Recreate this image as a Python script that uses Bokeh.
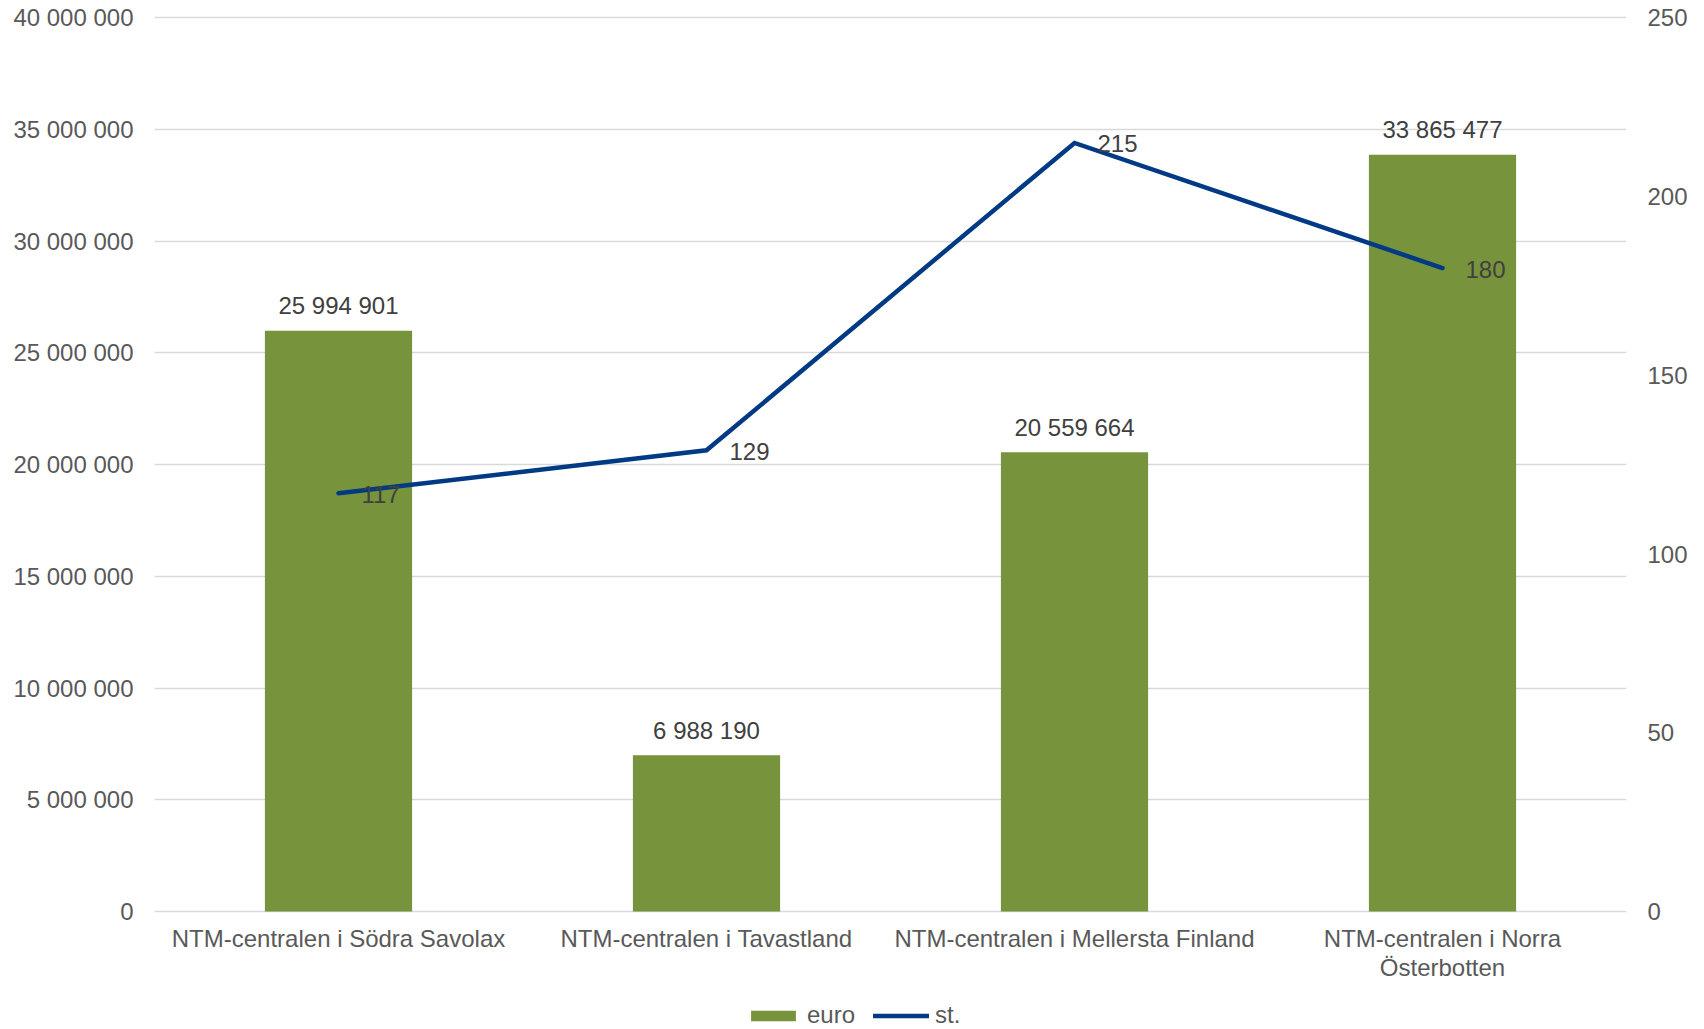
from bokeh.plotting import figure
from bokeh.models import (Range1d, FactorRange, LinearAxis, FixedTicker, CustomJSTickFormatter,
                          Legend, LegendItem, ColumnDataSource)
from bokeh.core.properties import value
from bokeh.embed import file_html
from bokeh.resources import INLINE

categories = ["NTM-centralen i Södra Savolax", "NTM-centralen i Tavastland",
              "NTM-centralen i Mellersta Finland", "NTM-centralen i Norra Österbotten"]
cat_labels = ["NTM-centralen i Södra Savolax", "NTM-centralen i Tavastland",
              "NTM-centralen i Mellersta Finland", "NTM-centralen i Norra\nÖsterbotten"]
euro = [25994901, 6988190, 20559664, 33865477]
st = [117, 129, 215, 180]
euro_labels = ["25 994 901", "6 988 190", "20 559 664", "33 865 477"]
st_labels = ["117", "129", "215", "180"]
left_ticks = [0, 5e6, 10e6, 15e6, 20e6, 25e6, 30e6, 35e6, 40e6]
right_ticks = [0, 50, 100, 150, 200, 250]

FONT = "Liberation Sans"
GREEN = "#77933C"
NAVY = "#003A84"
TICK_COLOR = "#595959"
LABEL_COLOR = "#404040"

W, H = 1704, 1029
TOP_PX, ZERO_PX = 17.3, 911.0          # pixel rows of the 40M / 0 gridlines
px_left = 40e6 / (ZERO_PX - TOP_PX)
px_right = 250 / (ZERO_PX - TOP_PX)

p = figure(width=W, height=H, x_range=FactorRange(*categories, range_padding=0),
           y_range=Range1d(-(H - ZERO_PX) * px_left, 40e6 + TOP_PX * px_left),
           output_backend="svg", toolbar_location=None, x_axis_location=None,
           min_border_left=154, min_border_right=W - 1626, min_border_top=0, min_border_bottom=0)
p.outline_line_color = None
p.background_fill_color = None
p.extra_y_ranges = {"st": Range1d(-(H - ZERO_PX) * px_right, 250 + TOP_PX * px_right)}

src = ColumnDataSource(dict(cat=categories, euro=euro, st=st, el=euro_labels, sl=st_labels,
                            cl=cat_labels, zero=[0] * 4))

bars = p.vbar(x="cat", top="euro", width=0.4, source=src, fill_color=GREEN, line_color=None)
line = p.line(x="cat", y="st", source=src, y_range_name="st", line_color=NAVY, line_width=4.5,
              line_cap="round", line_join="miter")

p.text(x="cat", y="euro", text="el", source=src, text_font=value(FONT), text_font_size="24px",
       text_color=LABEL_COLOR, text_align="center", text_baseline="middle", y_offset=-25)
p.text(x="cat", y="st", text="sl", source=src, y_range_name="st", text_font=value(FONT),
       text_font_size="24px", text_color=LABEL_COLOR, text_align="left", text_baseline="middle",
       x_offset=23, y_offset=1)
# category labels under the baseline
p.text(x="cat", y="zero", text="cl", source=src, text_font=value(FONT), text_font_size="24px",
       text_color=TICK_COLOR, text_align="center", text_baseline="top", y_offset=13,
       text_line_height=1.1)

# axes
p.yaxis.ticker = FixedTicker(ticks=left_ticks)
p.yaxis.formatter = CustomJSTickFormatter(code="return tick.toFixed(0).replace(/\\B(?=(\\d{3})+(?!\\d))/g, ' ');")
right = LinearAxis(y_range_name="st", ticker=FixedTicker(ticks=right_ticks))
p.add_layout(right, "right")
for ax in [p.yaxis[0], right]:
    ax.axis_line_color = None
    ax.major_tick_line_color = None
    ax.minor_tick_line_color = None
    ax.major_tick_in = 0
    ax.major_tick_out = 0
    ax.major_label_standoff = 21
    ax.major_label_text_font = FONT
    ax.major_label_text_font_size = "24px"
    ax.major_label_text_color = TICK_COLOR

p.xgrid.grid_line_color = None
p.ygrid.grid_line_color = "#D9D9D9"
p.ygrid.grid_line_width = 1.5
p.ygrid.ticker = FixedTicker(ticks=left_ticks)

legend = Legend(items=[LegendItem(label="euro", renderers=[bars]),
                       LegendItem(label="st.", renderers=[line])],
                orientation="horizontal", location=(591, 0),
                padding=0, margin=0, spacing=18, label_standoff=6,
                glyph_width=56, glyph_height=13,
                label_text_font=FONT, label_text_font_size="24px", label_text_color=TICK_COLOR,
                border_line_color=None, background_fill_alpha=0)
p.add_layout(legend, "center")

open("out.html", "w").write(file_html(p, INLINE))
